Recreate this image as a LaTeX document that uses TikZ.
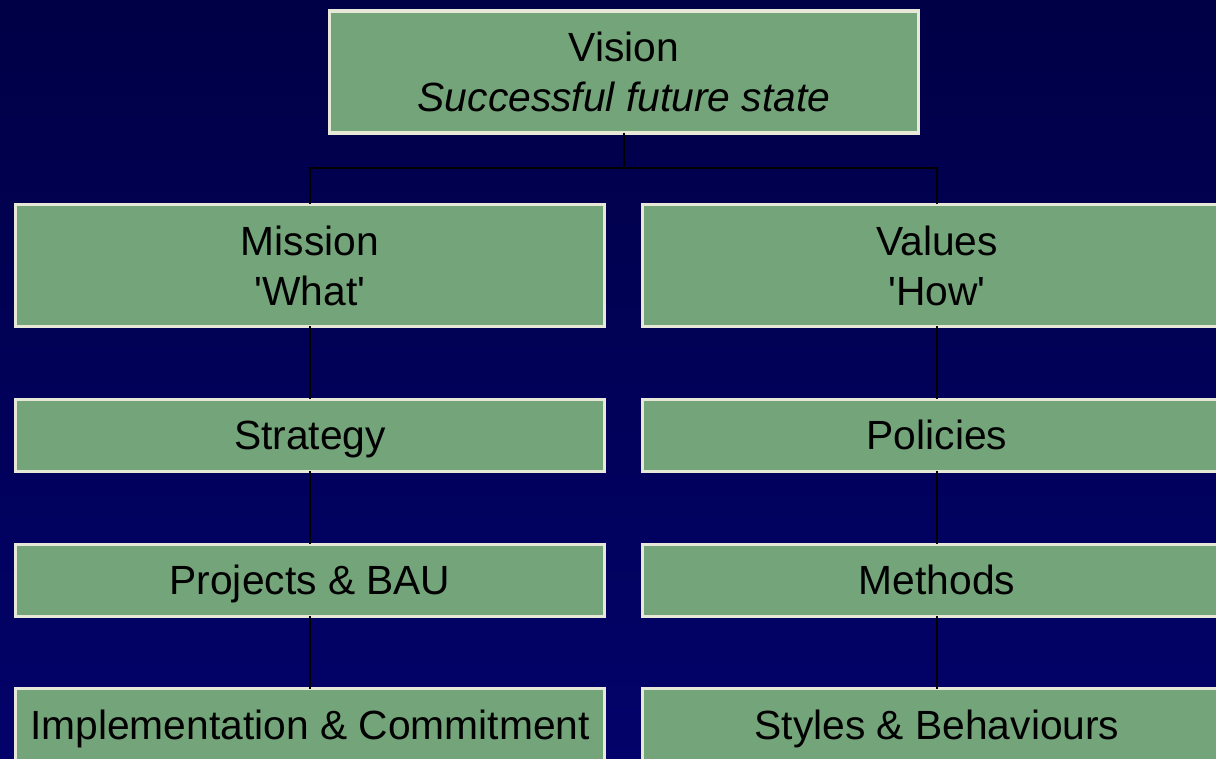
\documentclass[tikz,border=0pt]{standalone}
\usepackage{fontspec}
\setmainfont{Liberation Sans}
\usetikzlibrary{positioning}

\definecolor{navytop}{RGB}{0,0,70}
\definecolor{navybottom}{RGB}{2,2,106}
\definecolor{sage}{RGB}{116,164,122}
\definecolor{cream}{RGB}{232,232,216}

\begin{document}
\begin{tikzpicture}[
    node distance=1.82cm,
    box/.style={rectangle, draw=cream, fill=sage, line width=2.2pt, outer sep=0pt, minimum width=14.72cm, inner sep=0pt, font=\fontsize{29}{35.5}\selectfont},
    bigblock/.style={box, minimum height=3.05cm, align=center},
    block/.style={box, minimum height=1.8cm, text height=26.1pt, text depth=5.3pt},
    link/.style={draw=black, line width=1.4pt}
]
    % background
    \useasboundingbox (0,0) rectangle (30.4,-18.975);
    \fill[top color=navytop, bottom color=navybottom] (0,0) rectangle (30.4,-18.975);
    \clip (0,0) rectangle (30.4,-18.975);

    \node[bigblock] (vision) at (15.6,-1.8) {Vision\\\textit{Successful future state}};
    \node[bigblock] (mission) at (7.75,-6.6375) {Mission\\\textquotesingle What\textquotesingle};
    \node[bigblock] (values) at (23.425,-6.6375) {Values\\\textquotesingle How\textquotesingle};

    \node[block, below=of mission] (strategy) {Strategy};
    \node[block, below=of strategy] (projects) {Projects \& BAU};
    \node[block, below=of projects] (implementation) {Implementation \& Commitment};

    \node[block, below=of values] (policies) {Policies};
    \node[block, below=of policies] (methods) {Methods};
    \node[block, below=of methods] (styles) {Styles \& Behaviours};

    \draw[link] (vision.south) -- ++(0,-0.875) coordinate (split);
    \draw[link] (split) -| (mission.north);
    \draw[link] (split) -| (values.north);
    \draw[link] (mission) -- (strategy);
    \draw[link] (strategy) -- (projects);
    \draw[link] (projects) -- (implementation);
    \draw[link] (values) -- (policies);
    \draw[link] (policies) -- (methods);
    \draw[link] (methods) -- (styles);
\end{tikzpicture}
\end{document}
